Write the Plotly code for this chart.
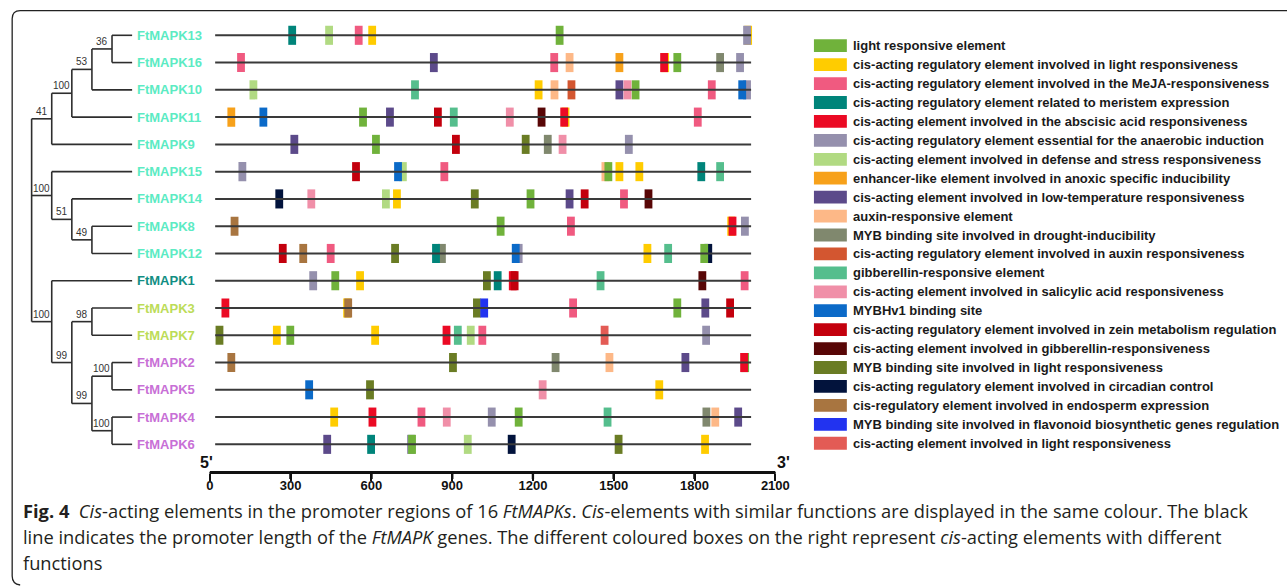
import plotly.graph_objects as go

W, H = 1287, 586

# ---------------- data ----------------
GENES = ["FtMAPK13", "FtMAPK16", "FtMAPK10", "FtMAPK11", "FtMAPK9", "FtMAPK15",
         "FtMAPK14", "FtMAPK8", "FtMAPK12", "FtMAPK1", "FtMAPK3", "FtMAPK7",
         "FtMAPK2", "FtMAPK5", "FtMAPK4", "FtMAPK6"]
PROMOTER_START = [20] * 16
PROMOTER_END = [2010] * 16

# phylogeny (bootstrap, children)
TREE = (None, [
    ("41", [("100", [("53", [("36", ["FtMAPK13", "FtMAPK16"]), "FtMAPK10"]), "FtMAPK11"]), "FtMAPK9"]),
    ("100", ["FtMAPK15", ("51", ["FtMAPK14", ("49", ["FtMAPK8", "FtMAPK12"])])]),
    ("100", ["FtMAPK1", ("99", [("98", ["FtMAPK3", "FtMAPK7"]),
                                ("99", [("100", ["FtMAPK2", "FtMAPK5"]), ("100", ["FtMAPK4", "FtMAPK6"])])])]),
])

# element positions (gene, position in bp)
LIGHT_RESP = [("FtMAPK13", 1299), ("FtMAPK16", 1736), ("FtMAPK10", 1581), ("FtMAPK11", 569),
              ("FtMAPK9", 617), ("FtMAPK15", 1480), ("FtMAPK14", 1191), ("FtMAPK8", 1080),
              ("FtMAPK12", 1836), ("FtMAPK1", 466), ("FtMAPK3", 1736), ("FtMAPK7", 299),
              ("FtMAPK2", 1988), ("FtMAPK4", 1147), ("FtMAPK6", 751)]
CIS_LIGHT = [("FtMAPK13", 603), ("FtMAPK13", 1999), ("FtMAPK16", 1691), ("FtMAPK10", 1221),
             ("FtMAPK11", 1321), ("FtMAPK15", 1521), ("FtMAPK15", 1595), ("FtMAPK14", 695),
             ("FtMAPK8", 1936), ("FtMAPK12", 1625), ("FtMAPK1", 558), ("FtMAPK3", 510),
             ("FtMAPK7", 249), ("FtMAPK7", 614), ("FtMAPK5", 1669), ("FtMAPK4", 462),
             ("FtMAPK6", 1839)]
MEJA = [("FtMAPK13", 553), ("FtMAPK16", 116), ("FtMAPK16", 1279), ("FtMAPK10", 1864),
        ("FtMAPK11", 1812), ("FtMAPK15", 871), ("FtMAPK14", 1538), ("FtMAPK8", 1341),
        ("FtMAPK12", 449), ("FtMAPK1", 1986), ("FtMAPK3", 1349), ("FtMAPK7", 1012),
        ("FtMAPK4", 786)]
MERISTEM = [("FtMAPK13", 306), ("FtMAPK15", 1825), ("FtMAPK12", 840), ("FtMAPK1", 1069),
            ("FtMAPK6", 599)]
ABA = [("FtMAPK16", 1687), ("FtMAPK11", 1316), ("FtMAPK8", 1941), ("FtMAPK1", 1125),
       ("FtMAPK3", 58), ("FtMAPK7", 879), ("FtMAPK2", 1984), ("FtMAPK4", 604)]
ANAEROBIC = [("FtMAPK13", 1995), ("FtMAPK16", 1969), ("FtMAPK10", 1995), ("FtMAPK9", 1556),
             ("FtMAPK15", 121), ("FtMAPK8", 1987), ("FtMAPK12", 1147), ("FtMAPK1", 384),
             ("FtMAPK7", 1843), ("FtMAPK4", 1047), ("FtMAPK6", 747)]
DEFENSE = [("FtMAPK13", 443), ("FtMAPK10", 162), ("FtMAPK15", 717), ("FtMAPK14", 654),
           ("FtMAPK7", 969), ("FtMAPK6", 958)]
ANOXIC = [("FtMAPK16", 1521), ("FtMAPK11", 80)]
LOW_TEMP = [("FtMAPK16", 832), ("FtMAPK10", 1521), ("FtMAPK11", 669), ("FtMAPK9", 314),
            ("FtMAPK14", 1336), ("FtMAPK3", 1840), ("FtMAPK2", 1766), ("FtMAPK4", 1962),
            ("FtMAPK6", 436)]
AUXIN_RESP = [("FtMAPK16", 1336), ("FtMAPK10", 1280), ("FtMAPK15", 1469), ("FtMAPK2", 1484),
              ("FtMAPK4", 1877)]
MYB_DROUGHT = [("FtMAPK16", 1895), ("FtMAPK9", 1255), ("FtMAPK12", 862), ("FtMAPK2", 1284),
               ("FtMAPK4", 1844)]
AUXIN_CIS = [("FtMAPK10", 1343)]
GA_RESP = [("FtMAPK10", 762), ("FtMAPK11", 906), ("FtMAPK15", 1895), ("FtMAPK12", 1702),
           ("FtMAPK1", 1451), ("FtMAPK7", 921), ("FtMAPK4", 1477)]
SALICYLIC = [("FtMAPK10", 1551), ("FtMAPK11", 1114), ("FtMAPK9", 1310), ("FtMAPK14", 377),
             ("FtMAPK5", 1236), ("FtMAPK4", 880)]
MYBHV1 = [("FtMAPK10", 1977), ("FtMAPK11", 199), ("FtMAPK15", 699), ("FtMAPK12", 1136),
          ("FtMAPK5", 369)]
ZEIN = [("FtMAPK11", 847), ("FtMAPK9", 914), ("FtMAPK15", 543), ("FtMAPK14", 1392),
        ("FtMAPK12", 271), ("FtMAPK1", 1132), ("FtMAPK3", 1932)]
GA_CIS = [("FtMAPK11", 1232), ("FtMAPK14", 1629), ("FtMAPK1", 1829)]
MYB_LIGHT = [("FtMAPK9", 1173), ("FtMAPK14", 984), ("FtMAPK12", 688), ("FtMAPK1", 1029),
             ("FtMAPK3", 992), ("FtMAPK7", 36), ("FtMAPK2", 903), ("FtMAPK5", 595),
             ("FtMAPK6", 1518)]
CIRCADIAN = [("FtMAPK14", 258), ("FtMAPK12", 1851), ("FtMAPK6", 1121)]
ENDOSPERM = [("FtMAPK8", 92), ("FtMAPK12", 347), ("FtMAPK3", 514), ("FtMAPK2", 80)]
FLAVONOID = [("FtMAPK3", 1019)]
CIS_LIGHT2 = [("FtMAPK7", 1466)]

# (legend label, colour, data) in legend order
ELEMENTS = [
    ("light responsive element", "#70B23B", LIGHT_RESP),
    ("cis-acting regulatory element involved in light responsiveness", "#FFCC00", CIS_LIGHT),
    ("cis-acting regulatory element involved in the MeJA-responsiveness", "#F05A80", MEJA),
    ("cis-acting regulatory element related to meristem expression", "#00847A", MERISTEM),
    ("cis-acting element involved in the abscisic acid responsiveness", "#EB0A24", ABA),
    ("cis-acting regulatory element essential for the anaerobic induction", "#9590AD", ANAEROBIC),
    ("cis-acting element involved in defense and stress responsiveness", "#B1DA82", DEFENSE),
    ("enhancer-like element involved in anoxic specific inducibility", "#F7A11A", ANOXIC),
    ("cis-acting element involved in low-temperature responsiveness", "#5C4A8A", LOW_TEMP),
    ("auxin-responsive element", "#FDB887", AUXIN_RESP),
    ("MYB binding site involved in drought-inducibility", "#80886E", MYB_DROUGHT),
    ("cis-acting regulatory element involved in auxin responsiveness", "#D35630", AUXIN_CIS),
    ("gibberellin-responsive element", "#55BE8D", GA_RESP),
    ("cis-acting element involved in salicylic acid responsiveness", "#F08FA8", SALICYLIC),
    ("MYBHv1 binding site", "#0B6AC8", MYBHV1),
    ("cis-acting regulatory element involved in zein metabolism regulation", "#C3000D", ZEIN),
    ("cis-acting element involved in gibberellin-responsiveness", "#580606", GA_CIS),
    ("MYB binding site involved in light responsiveness", "#6A7C24", MYB_LIGHT),
    ("cis-acting regulatory element involved in circadian control", "#02133C", CIRCADIAN),
    ("cis-regulatory element involved in endosperm expression", "#A87540", ENDOSPERM),
    ("MYB binding site involved in flavonoid biosynthetic genes regulation", "#2233F0", FLAVONOID),
    ("cis-acting element involved in light responsiveness", "#E35B55", CIS_LIGHT2),
]
# drawing order (bottom -> top), by legend index
DRAW_ORDER = [1, 5, 6, 9, 10, 18, 17, 0, 4, 15, 3, 14, 19, 20, 2, 7, 8, 11, 12, 13, 16, 21]

LABEL_COLORS = {g: "#5CEBC3" for g in GENES[:9]}
LABEL_COLORS["FtMAPK1"] = "#128E83"
for g in ["FtMAPK3", "FtMAPK7"]:
    LABEL_COLORS[g] = "#BCDC58"
for g in ["FtMAPK2", "FtMAPK5", "FtMAPK4", "FtMAPK6"]:
    LABEL_COLORS[g] = "#C870D6"

AXIS_TICKS = [0, 300, 600, 900, 1200, 1500, 1800, 2100]

CAPTION = [
    "<b>Fig. 4</b>  <i>Cis</i>-acting elements in the promoter regions of 16 <i>FtMAPKs</i>. "
    "<i>Cis</i>-elements with similar functions are displayed in the same colour. The black",
    "line indicates the promoter length of the <i>FtMAPK</i> genes. The different coloured boxes "
    "on the right represent <i>cis</i>-acting elements with different",
    "functions",
]

# ---------------- layout constants (pixels) ----------------
# the page is photographed slightly compressed horizontally; compensate
XA, XB = 0.9893, 1.0
AX0_PX, AX1_PX = 208.3, 775.3          # target x of 0 bp and 2100 bp
AXIS_Y_PX = 472
TICK_LEN_PX = 7
PLOT_BOTTOM_PX = 486
ROW0_PX, ROW_STEP = 35.3, 27.27
TREE0_PX, TREE_STEP = 29.7, 20.15
LEAF_DEPTH = 5
BOX_W = 29
BOX_H = 0.70


def req(p):
    return (p - XB) / XA


def pxx(p):
    return req(p) / W


def pxy(p):
    return 1 - p / H


def rowy(p):
    return (p - ROW0_PX) / ROW_STEP


fig = go.Figure()

row_of = {g: i for i, g in enumerate(GENES)}

# promoter lines
lx, ly = [], []
for i, g in enumerate(GENES):
    lx += [PROMOTER_START[i], PROMOTER_END[i], None]
    ly += [i, i, None]
fig.add_trace(go.Scatter(x=lx, y=ly, mode="lines", line=dict(color="#3a3a3a", width=2),
                         hoverinfo="skip", showlegend=False, xaxis="x", yaxis="y"))

# element boxes
for k in DRAW_ORDER:
    name, col, data = ELEMENTS[k]
    fig.add_trace(go.Bar(
        orientation="h",
        y=[row_of[g] for g, _ in data],
        x=[BOX_W] * len(data),
        base=[p - BOX_W / 2 for _, p in data],
        width=BOX_H,
        marker=dict(color=col, line=dict(width=0)),
        name=name, showlegend=False, xaxis="x", yaxis="y"))

# tree
tx, ty = [], []
boot = []


def walk(node, depth):
    if isinstance(node, str):
        return row_of[node]
    bs, children = node
    ys = []
    for c in children:
        cy = walk(c, depth + 1)
        cd = LEAF_DEPTH if isinstance(c, str) else depth + 1
        tx.extend([depth, cd, None])
        ty.extend([cy, cy, None])
        if not isinstance(c, str):
            boot.append((depth + 0.5, cy, c[0]))
        ys.append(cy)
    tx.extend([depth, depth, None])
    ty.extend([min(ys), max(ys), None])
    return (min(ys) + max(ys)) / 2


walk(TREE, 0)
fig.add_trace(go.Scatter(x=tx, y=ty, mode="lines", line=dict(color="#2e2e2e", width=1.6),
                         hoverinfo="skip", showlegend=False, xaxis="x2", yaxis="y"))

# scale bar: axis line and ticks in bp units
ay = rowy(AXIS_Y_PX)
ay2 = rowy(AXIS_Y_PX + TICK_LEN_PX)
sx, sy = [AXIS_TICKS[0], AXIS_TICKS[-1], None], [ay, ay, None]
for t in AXIS_TICKS:
    sx += [t, t, None]
    sy += [ay, ay2, None]
fig.add_trace(go.Scatter(x=sx, y=sy, mode="lines", line=dict(color="#111111", width=2.2),
                         hoverinfo="skip", showlegend=False, xaxis="x", yaxis="y"))
# dedicated scale-bar subplot (drawn last)
fig.add_trace(go.Scatter(x=[AXIS_TICKS[0], AXIS_TICKS[-1]], y=[0, 0], mode="lines",
                         line=dict(color="rgba(0,0,0,0)", width=1),
                         hoverinfo="skip", showlegend=False, xaxis="x3", yaxis="y3"))

annotations = []
shapes = []
shapes.append(dict(type="line", xref="x", yref="y", x0=AXIS_TICKS[0], x1=AXIS_TICKS[-1],
                   y0=ay, y1=ay, layer="above", line=dict(color="#111111", width=2.2)))
for t in AXIS_TICKS:
    shapes.append(dict(type="line", xref="x", yref="y", x0=t, x1=t, y0=ay, y1=ay2,
                       layer="above", line=dict(color="#111111", width=2.2)))

for bx, by, bt in boot:
    annotations.append(dict(x=bx, y=by, xref="x2", yref="y", text=bt, showarrow=False,
                            yanchor="bottom", yshift=0,
                            font=dict(family="Liberation Sans Narrow, Liberation Sans, Arial",
                                      size=10, color="#333333")))
for i, g in enumerate(GENES):
    annotations.append(dict(x=LEAF_DEPTH, y=i, xref="x2", yref="y", text=f"<b>{g}</b>",
                            showarrow=False, xanchor="left", xshift=3,
                            font=dict(family="Liberation Sans, Arial", size=13,
                                      color=LABEL_COLORS[g])))

# 5' and 3'
for xv, t in [(AXIS_TICKS[0], "5'"), (AXIS_TICKS[-1], "3'")]:
    annotations.append(dict(x=xv, y=pxy(462), xref="x", yref="paper", text=f"<b>{t}</b>",
                            showarrow=False, xshift=-3 if t == "5'" else 8, yanchor="middle",
                            font=dict(family="Liberation Sans Narrow, Liberation Sans, Arial",
                                      size=16, color="#111111")))

# legend
LEG_Y0, LEG_STEP = 45.7, 18.93
for i, (name, col, _) in enumerate(ELEMENTS):
    cy = LEG_Y0 + i * LEG_STEP
    shapes.append(dict(type="rect", xref="paper", yref="paper",
                       x0=pxx(814), x1=pxx(847), y0=pxy(cy - 6.4), y1=pxy(cy + 6.4),
                       fillcolor=col, line=dict(width=0)))
    annotations.append(dict(x=pxx(851), y=pxy(cy), xref="paper", yref="paper",
                            text=f"<b>{name}</b>", showarrow=False, xanchor="left",
                            yanchor="middle",
                            font=dict(family="Liberation Sans, Arial", size=13,
                                      color="#1a1a1a")))

# caption
for i, line in enumerate(CAPTION):
    annotations.append(dict(x=pxx(19), y=pxy(510 + i * 26.3), xref="paper", yref="paper",
                            text=line, showarrow=False, xanchor="left", yanchor="middle",
                            font=dict(family="Open Sans, Noto Sans, sans-serif", size=18.3,
                                      color="#231F20")))

# frame
r = 8
fx0, fy0, fy1 = 10.2, 10.7, 584
path = (f"M {pxx(W + 20)},{pxy(fy0)} L {pxx(fx0 + r)},{pxy(fy0)} "
        f"Q {pxx(fx0)},{pxy(fy0)} {pxx(fx0)},{pxy(fy0 + r)} "
        f"L {pxx(fx0)},{pxy(fy1 - r)} Q {pxx(fx0)},{pxy(fy1)} {pxx(fx0 + r)},{pxy(fy1 + 1)}")
shapes.append(dict(type="path", xref="paper", yref="paper", path=path,
                   fillcolor="rgba(0,0,0,0)", line=dict(color="#222222", width=1.3)))

span = AX1_PX - AX0_PX
scale = span / 2100.0
x_domain = [pxx(AX0_PX - 0.5 * scale), pxx(AX1_PX + 0.5 * scale)]
fig.update_layout(
    width=W, height=H, autosize=False,
    margin=dict(l=0, r=0, t=0, b=0),
    paper_bgcolor="white", plot_bgcolor="rgba(0,0,0,0)",
    barmode="overlay", showlegend=False,
    xaxis=dict(domain=x_domain,
               range=[-0.5, 2100.5], anchor="free", position=pxy(AXIS_Y_PX), side="bottom",
               tickmode="array", tickvals=AXIS_TICKS, ticks="", showline=False,
               ticklabelstandoff=4, showgrid=False, zeroline=False,
               tickfont=dict(family="Liberation Sans Narrow, Liberation Sans, Arial",
                             size=13, color="#111111", weight="bold")),
    xaxis2=dict(domain=[0, 1], anchor="y",
                range=[(XB - TREE0_PX) / TREE_STEP, (W * XA + XB - TREE0_PX) / TREE_STEP],
                visible=False),
    yaxis=dict(domain=[pxy(PLOT_BOTTOM_PX), 1],
               range=[rowy(PLOT_BOTTOM_PX), rowy(0)], visible=False),
    xaxis3=dict(domain=x_domain, range=[-0.5, 2100.5], anchor="y3", side="bottom",
                tickmode="array", tickvals=AXIS_TICKS, ticks="outside",
                ticklen=TICK_LEN_PX, tickwidth=2, tickcolor="#111111",
                showline=True, linecolor="#111111", linewidth=2,
                showticklabels=False, showgrid=False, zeroline=False),
    yaxis3=dict(domain=[pxy(AXIS_Y_PX), pxy(AXIS_Y_PX - 8)], range=[-1, 1],
                visible=False),
    annotations=annotations, shapes=shapes,
)

fig.write_html("out.html", config={"responsive": False})
